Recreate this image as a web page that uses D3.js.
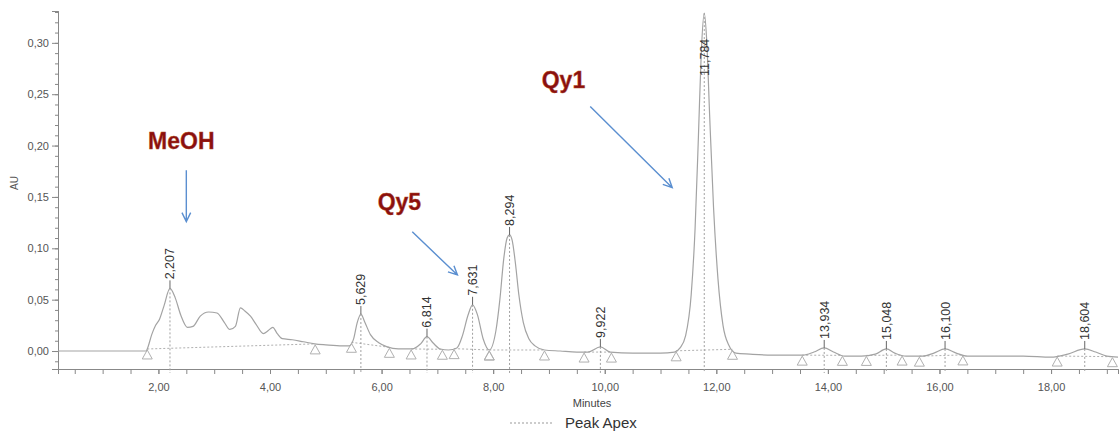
<!DOCTYPE html>
<html>
<head>
<meta charset="utf-8">
<script src="https://cdn.jsdelivr.net/npm/d3@7"></script>
<style>
  body { margin: 0; background: #fff; }
  svg { display: block; font-family: "Liberation Sans", Arial, sans-serif; }
</style>
</head>
<body>
<svg id="chart" width="1120" height="435"></svg>
<script>
// chromatogram trace, minutes / AU
const times = [0.2, 1.0, 1.78, 1.80, 1.88, 1.95, 2.02, 2.10, 2.207, 2.30, 2.40, 2.52, 2.62, 2.75, 2.90, 3.05, 3.18, 3.28, 3.38, 3.47, 3.55, 3.65, 3.75, 3.88, 3.97, 4.05, 4.13, 4.22, 4.40, 4.60, 4.80, 5.00, 5.30, 5.42, 5.50, 5.56, 5.629, 5.70, 5.80, 5.95, 6.10, 6.30, 6.55, 6.70, 6.814, 6.92, 7.05, 7.20, 7.35, 7.45, 7.55, 7.631, 7.72, 7.82, 7.93, 8.05, 8.12, 8.19, 8.25, 8.294, 8.34, 8.40, 8.46, 8.54, 8.64, 8.75, 8.92, 9.20, 9.50, 9.70, 9.922, 10.10, 10.50, 11.00, 11.25, 11.35, 11.45, 11.55, 11.62, 11.68, 11.73, 11.784, 11.83, 11.88, 11.95, 12.03, 12.12, 12.22, 12.35, 12.60, 13.00, 13.30, 13.55, 13.75, 13.934, 14.10, 14.30, 14.60, 14.85, 15.048, 15.20, 15.40, 15.70, 15.90, 16.100, 16.30, 16.50, 17.00, 17.50, 18.00, 18.30, 18.604, 18.80, 19.00, 19.20];
const absorb = [0.000, 0.000, 0.000, 0.002, 0.016, 0.025, 0.031, 0.044, 0.061, 0.052, 0.035, 0.023, 0.024, 0.034, 0.038, 0.037, 0.028, 0.021, 0.024, 0.042, 0.039, 0.034, 0.026, 0.017, 0.020, 0.023, 0.017, 0.012, 0.011, 0.009, 0.007, 0.006, 0.005, 0.005, 0.012, 0.027, 0.036, 0.028, 0.016, 0.008, 0.004, 0.002, 0.002, 0.007, 0.014, 0.008, 0.002, 0.001, 0.003, 0.015, 0.035, 0.045, 0.035, 0.012, 0.001, 0.020, 0.050, 0.090, 0.110, 0.113, 0.108, 0.085, 0.055, 0.028, 0.012, 0.005, 0.001, 0.000, -0.001, -0.001, 0.004, -0.001, -0.002, -0.002, -0.001, 0.003, 0.015, 0.055, 0.120, 0.210, 0.290, 0.329, 0.300, 0.230, 0.140, 0.070, 0.025, 0.006, -0.002, -0.003, -0.004, -0.004, -0.004, -0.001, 0.003, -0.001, -0.005, -0.005, -0.003, 0.002, -0.002, -0.005, -0.005, -0.002, 0.002, -0.002, -0.005, -0.005, -0.005, -0.006, -0.003, 0.002, -0.001, -0.005, -0.006];

const peakTimes = [2.207, 5.629, 6.814, 7.631, 8.294, 9.922, 11.784, 13.934, 15.048, 16.100, 18.604];
const peakLabels = ['2,207', '5,629', '6,814', '7,631', '8,294', '9,922', '11,784', '13,934', '15,048', '16,100', '18,604'];

// integration start / end marks
const baseStarts = [1.80, 5.46, 6.53, 7.30, 7.93, 9.63, 11.28, 13.54, 14.69, 15.64, 18.11];
const baseEnds = [4.81, 6.14, 7.09, 7.93, 8.92, 10.12, 12.29, 14.26, 15.33, 16.42, 19.10];

const xTicks = [2, 4, 6, 8, 10, 12, 14, 16, 18];
const yTicks = [0, 0.05, 0.10, 0.15, 0.20, 0.25, 0.30];

const noteTexts = ['MeOH', 'Qy5', 'Qy1'];
const noteAt = [[2.41, 0.197], [6.32, 0.137], [9.26, 0.256]];
const arrowFrom = [[2.50, 0.176], [6.55, 0.116], [9.74, 0.238]];
const arrowTo = [[2.50, 0.126], [7.36, 0.074], [11.21, 0.159]];

const svg = d3.select('#chart');
const x = d3.scaleLinear().domain([0.2, 19.2]).range([58, 1118]);
const y = d3.scaleLinear().domain([-0.0175, 0.331]).range([369, 11]);
const comma = d => d.toFixed(2).replace('.', ',');

function valueAt(t) {
  const i = d3.bisectLeft(times, t);
  if (i <= 0) return absorb[0];
  if (i >= times.length) return absorb[absorb.length - 1];
  const t0 = times[i - 1], t1 = times[i];
  return absorb[i - 1] + (absorb[i] - absorb[i - 1]) * (t - t0) / (t1 - t0);
}

// axes
svg.append('g').attr('transform', `translate(${x(0.2)},0)`)
  .call(d3.axisLeft(y).tickValues(yTicks).tickSize(6).tickFormat(comma));
svg.append('g').attr('transform', `translate(${x(0.2)},0)`)
  .call(d3.axisLeft(y).tickValues(d3.range(-0.01, 0.331, 0.01)).tickSize(3).tickFormat(''));
const gx = svg.append('g').attr('transform', `translate(0,${y.range()[0]})`)
  .call(d3.axisBottom(x).tickValues(xTicks).tickSize(5).tickFormat(comma));
svg.append('g').attr('transform', `translate(0,${y.range()[0]})`)
  .call(d3.axisBottom(x).tickValues(d3.range(0.5, 19.2, 0.5)).tickSize(5).tickFormat(''));
svg.selectAll('.domain').attr('stroke', '#888');
svg.selectAll('.tick line').attr('stroke', '#888');
svg.selectAll('.tick text').attr('fill', '#555').attr('font-size', 11);
gx.selectAll('.tick text').attr('dy', '1.3em');

svg.append('text').attr('transform', 'translate(18,183) rotate(-90)')
  .attr('text-anchor', 'middle').attr('font-size', 10).attr('fill', '#555').text('AU');
svg.append('text').attr('x', 592).attr('y', 407).attr('text-anchor', 'middle')
  .attr('font-size', 11).attr('fill', '#444').text('Minutes');

// integration baselines
svg.append('g').selectAll('line').data(baseStarts).join('line')
  .attr('x1', d => x(d)).attr('y1', d => y(valueAt(d)))
  .attr('x2', (d, i) => x(baseEnds[i])).attr('y2', (d, i) => y(valueAt(baseEnds[i])))
  .attr('stroke', '#b0b0b0').attr('stroke-dasharray', '2,2');

// peak apex drop lines
svg.append('g').selectAll('line').data(peakTimes).join('line')
  .attr('x1', d => x(d)).attr('x2', d => x(d))
  .attr('y1', d => y(valueAt(d))).attr('y2', y.range()[0] + 4)
  .attr('stroke', '#a0a0a0').attr('stroke-dasharray', '2,2');

// trace
const line = d3.line().x((d, i) => x(times[i])).y(d => y(d)).curve(d3.curveMonotoneX);
svg.append('path').datum(absorb).attr('d', line)
  .attr('fill', 'none').attr('stroke', '#a3a3a3').attr('stroke-width', 1.2);

// triangles
const marks = baseStarts.concat(baseEnds);
svg.append('g').selectAll('path').data(marks).join('path')
  .attr('d', d => { const px = x(d), py = y(valueAt(d)) + 1; return `M${px},${py}L${px - 5},${py + 9}L${px + 5},${py + 9}Z`; })
  .attr('fill', 'none').attr('stroke', '#b0b0b0');

// peak labels
const labelY = t => Math.max(y(valueAt(t)) - 9, 76);
svg.append('g').selectAll('line').data(peakTimes).join('line')
  .attr('x1', d => x(d)).attr('x2', d => x(d))
  .attr('y1', d => labelY(d) + 1).attr('y2', d => Math.max(y(valueAt(d)), labelY(d) + 1))
  .attr('stroke', '#666');
svg.append('g').selectAll('text').data(peakTimes).join('text')
  .attr('transform', d => `translate(${x(d) + 4.5},${labelY(d)}) rotate(-90)`)
  .attr('font-size', 12.5).attr('fill', '#333')
  .text((d, i) => peakLabels[i]);

// annotations
svg.append('g').selectAll('text').data(noteTexts).join('text')
  .attr('x', (d, i) => x(noteAt[i][0])).attr('y', (d, i) => y(noteAt[i][1]))
  .attr('text-anchor', 'middle').attr('font-size', 23).attr('font-weight', 'bold')
  .attr('fill', '#8a1010').attr('stroke', '#b04a20').attr('stroke-width', 0.4)
  .text(d => d);
const arrows = svg.append('g').attr('stroke', '#5b8fd0').attr('stroke-width', 1.4).attr('fill', 'none');
arrowFrom.forEach((f, i) => {
  const x1 = x(f[0]), y1 = y(f[1]), x2 = x(arrowTo[i][0]), y2 = y(arrowTo[i][1]);
  const a = Math.atan2(y2 - y1, x2 - x1), h = 10, s = 0.45;
  arrows.append('path').attr('d', `M${x1},${y1}L${x2},${y2}` +
    `M${x2 - h * Math.cos(a - s)},${y2 - h * Math.sin(a - s)}L${x2},${y2}L${x2 - h * Math.cos(a + s)},${y2 - h * Math.sin(a + s)}`);
});

// legend
svg.append('line').attr('x1', 510).attr('x2', 553).attr('y1', 423).attr('y2', 423)
  .attr('stroke', '#999').attr('stroke-dasharray', '2,2');
svg.append('text').attr('x', 565).attr('y', 428).attr('font-size', 15).attr('fill', '#333').text('Peak Apex');
</script>
</body>
</html>
